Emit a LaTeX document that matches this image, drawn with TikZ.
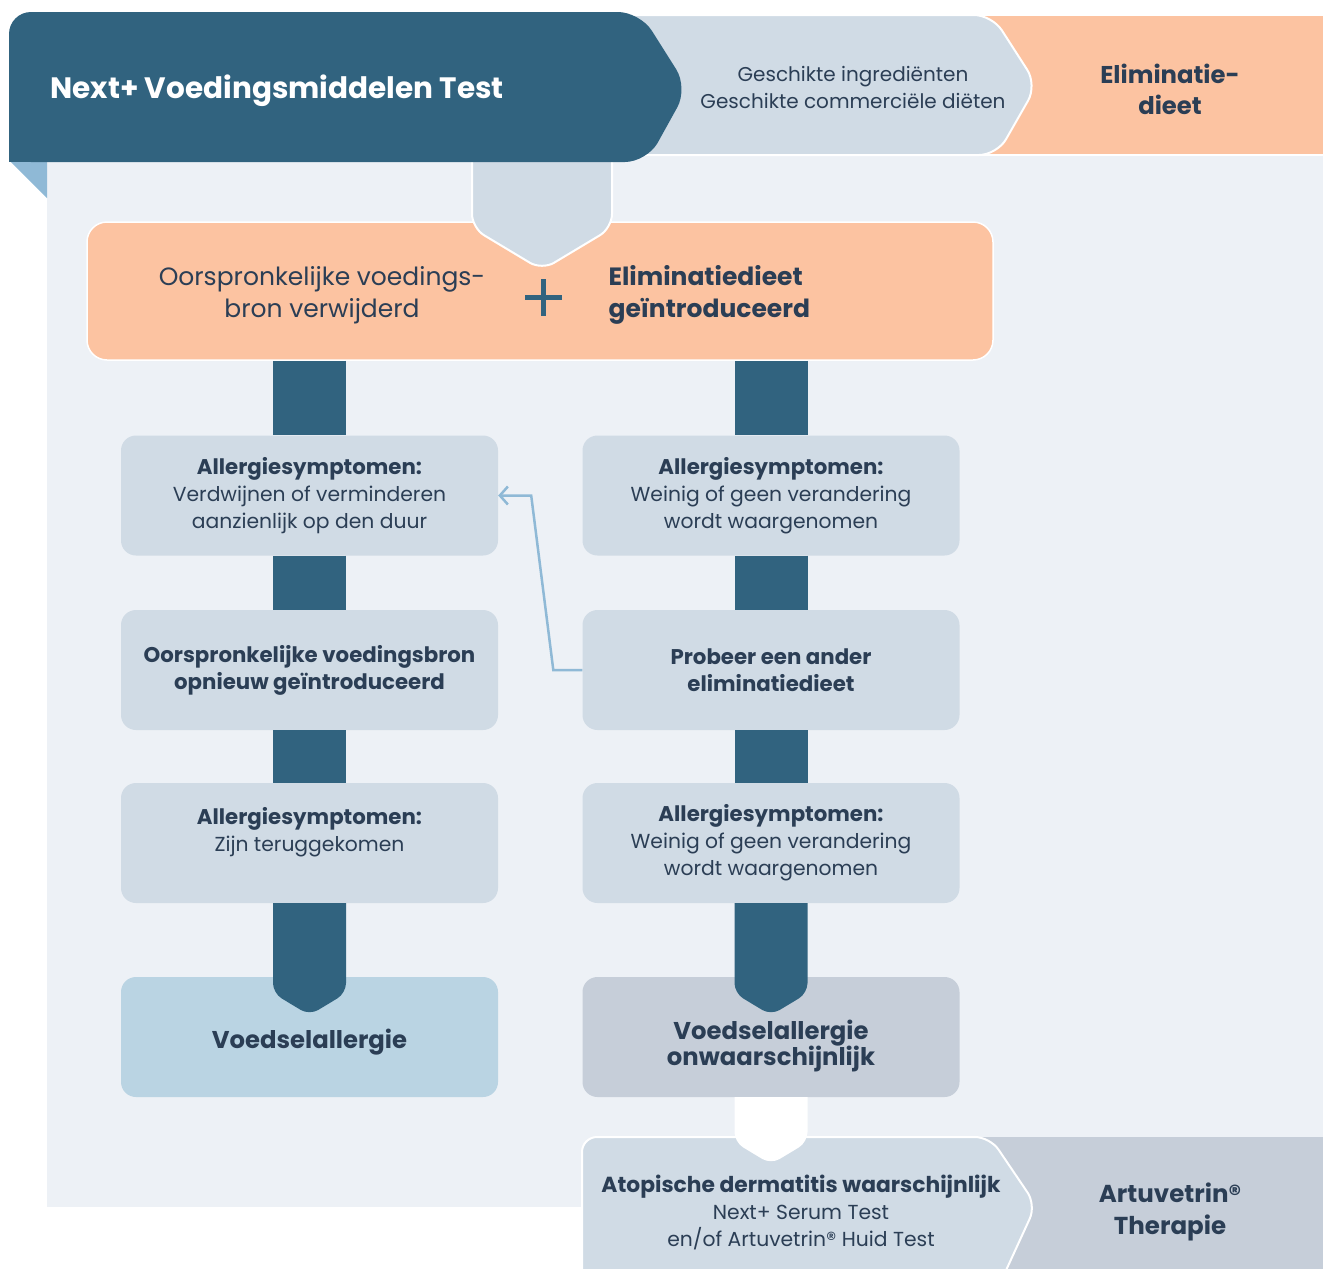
\documentclass[tikz,border=0pt]{standalone}
\usepackage{fontspec}
\setmainfont{Poppins}
\usetikzlibrary{arrows.meta}
\definecolor{navy}{HTML}{31637F}
\definecolor{txt}{HTML}{2B3E55}
\definecolor{pale}{HTML}{EDF1F6}
\definecolor{boxc}{HTML}{D0DBE5}
\definecolor{peach}{HTML}{FCC3A1}
\definecolor{lblue}{HTML}{BAD4E3}
\definecolor{greyb}{HTML}{C6CED9}
\definecolor{fold}{HTML}{8FB9D6}
\newcommand{\hdline}[1]{{\fontsize{21.3}{27}\selectfont\bfseries #1}}
\tikzset{
  box/.style={fill=boxc, rounded corners=15, minimum width=377, minimum height=120,
    text=txt, align=center, inner sep=0, font=\fontsize{20.3}{27}\selectfont},
  boldbox/.style={box, font=\fontsize{21.3}{27}\selectfont\bfseries},
  endbox/.style={box},
  endtext/.style={align=center, text=txt, inner sep=0, font=\fontsize{24.3}{26.5}\selectfont\bfseries},
  bar/.style={draw=navy, line width=73},
  feedback/.style={draw=fold, line width=2.5, -{Straight Barb[length=8,width=18,line width=2.5]}},
}
\begin{document}
\begin{tikzpicture}[x=1pt,y=-1pt]
\useasboundingbox (0,0) rectangle (1323,1269);
% background panel and fold
\fill[pale] (47,155) rectangle (1323,1207);
\fill[fold] (9,160) -- (47,160) -- (47,198) -- cycle;
% top strip
\fill[peach, draw=white, line width=2] (960,15) rectangle (1330,155);
\fill[boxc, draw=white, line width=2] (600,15) [rounded corners=18] -- (992,15) -- (1037,85) -- (997,155) -- (600,155) -- cycle;
% peach box
\node[draw=white, line width=1.5, fill=peach, rounded corners=20, minimum width=906, minimum height=138] (elim) at (540,291) {};
% connector from header
\fill[boxc, draw=white, line width=2] (472,150) [rounded corners=14] -- (472,228) -- (542,270) -- (612,228) -- (612,150);
% header
\fill[navy] (9,162) [rounded corners=22] -- (9,12) -- (640,12) -- (688,88) -- (647,162) -- cycle;
\fill[navy] (9,130) rectangle (40,162);
\node[anchor=west, text=white, font=\fontsize{29.5}{34}\selectfont\bfseries] (title) at (47,91) {Next+ Voedingsmiddelen Test};
\node[align=center, text=txt, font=\fontsize{20}{27}\selectfont] (ingr) at (853,87) {Geschikte ingrediënten\\Geschikte commerciële diëten};
\node[align=center, text=txt, font=\fontsize{24.3}{31}\selectfont\bfseries] (eldiet) at (1170,89) {Eliminatie-\\dieet};
% peach box texts
\node[align=center, text=txt, font=\fontsize{25}{32}\selectfont] (removed) at (322,295) {Oorspronkelijke voedings-\\bron verwijderd};
\draw[navy, line width=5] (525,297) -- (562,297) (543.5,279) -- (543.5,316);
\node[anchor=west, align=left, text=txt, font=\fontsize{25}{32}\selectfont\bfseries] (intro) at (605,295) {Eliminatiedieet\\geïntroduceerd};
% boxes
\node[box] (a1l) at (309.5,495.5) {\hdline{Allergiesymptomen:}\\Verdwijnen of verminderen\\aanzienlijk op den duur};
\node[box] (a1r) at (771,495.5) {\hdline{Allergiesymptomen:}\\Weinig of geen verandering\\wordt waargenomen};
\node[boldbox] (b2l) at (309.5,670) {Oorspronkelijke voedingsbron\\opnieuw geïntroduceerd};
\node[boldbox] (b2r) at (771,670) {Probeer een ander\\eliminatiedieet};
\node[box] (a3l) at (309.5,843) {\hdline{Allergiesymptomen:}\\Zijn teruggekomen\\\phantom{X}};
\node[box] (a3r) at (771,843) {\hdline{Allergiesymptomen:}\\Weinig of geen verandering\\wordt waargenomen};
\node[endbox, fill=lblue] (e4l) at (309.5,1037) {};
\node[endbox, fill=greyb] (e4r) at (771,1037) {};
\node[endtext] (e4lt) at (309.5,1042) {Voedselallergie};
\node[endtext] (e4rt) at (771,1046) {Voedselallergie\\onwaarschijnlijk};
% bars
\draw[bar] (elim.south -| a1l.north) -- (a1l.north);
\draw[bar] (elim.south -| a1r.north) -- (a1r.north);
\draw[bar] (a1l.south) -- (b2l.north);
\draw[bar] (a1r.south) -- (b2r.north);
\draw[bar] (b2l.south) -- (a3l.north);
\draw[bar] (b2r.south) -- (a3r.north);
\fill[navy] ([xshift=-36.5]a3l.south) [rounded corners=10] -- ++(0,90) -- ++(36.5,22) -- ++(36.5,-22) -- ++(0,-90);
\fill[navy] ([xshift=-36.5]a3r.south) [rounded corners=10] -- ++(0,90) -- ++(36.5,22) -- ++(36.5,-22) -- ++(0,-90);
% feedback arrow
\draw[feedback] (b2r.west) -- ++(-29,0) -- ([xshift=33]a1l.east) -- (a1l.east);
% bottom strip
\fill[greyb] (960,1137) rectangle (1330,1275);
\fill[boxc, draw=white, line width=2] (582,1290) [rounded corners=15] -- (582,1137) -- (990,1137) -- (1036,1205) -- (997,1290);
\fill[white] ([xshift=-36.5]e4r.south) [rounded corners=10] -- ++(0,45) -- ++(36.5,22) -- ++(36.5,-22) -- ++(0,-45);
\node[align=center, text=txt, font=\fontsize{20.3}{27}\selectfont] (atop) at (801,1212) {{\fontsize{21.8}{27}\selectfont\bfseries Atopische dermatitis waarschijnlijk}\\Next+ Serum Test\\en/of Artuvetrin® Huid Test};
\node[align=center, text=txt, font=\fontsize{24.5}{32}\selectfont\bfseries] (artu) at (1170,1212) {Artuvetrin®\\Therapie};
\end{tikzpicture}
\end{document}
